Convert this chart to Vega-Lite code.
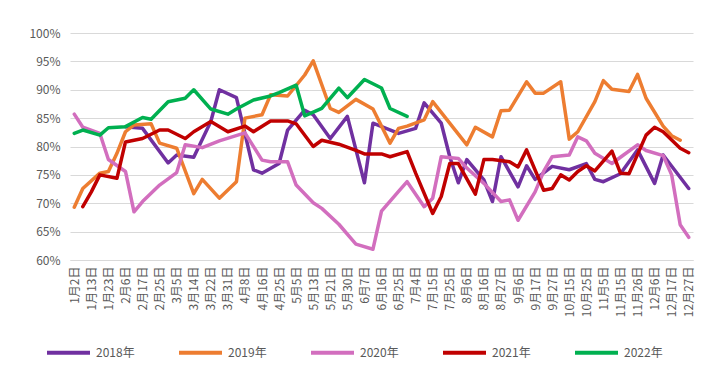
{
  "$schema": "https://vega.github.io/schema/vega-lite/v6.json",
  "width": 623,
  "height": 227,
  "autosize": {"type": "none"},
  "padding": {"left": 70, "top": 33, "right": 24, "bottom": 109},
  "background": "white",
  "config": {"view": {"stroke": null}, "font": "Noto Sans CJK SC"},
  "data": {"values": [
    {"s":"2018年","d":"2月6日","v":83.5},{"s":"2018年","d":"2月17日","v":83.2},{"s":"2018年","d":"3月1日","v":77.1},{"s":"2018年","d":"3月5日","v":78.5},{"s":"2018年","d":"3月14日","v":78.1},{"s":"2018年","d":"3月22日","v":84.4},{"s":"2018年","d":"3月26日","v":90.0},{"s":"2018年","d":"4月4日","v":88.6},{"s":"2018年","d":"4月12日","v":75.9},{"s":"2018年","d":"4月16日","v":75.3},{"s":"2018年","d":"4月25日","v":77.0},{"s":"2018年","d":"4月30日","v":82.9},{"s":"2018年","d":"5月9日","v":86.4},{"s":"2018年","d":"5月13日","v":85.6},{"s":"2018年","d":"5月21日","v":81.4},{"s":"2018年","d":"5月30日","v":85.3},{"s":"2018年","d":"6月7日","v":73.6},{"s":"2018年","d":"6月11日","v":84.1},{"s":"2018年","d":"6月25日","v":82.3},{"s":"2018年","d":"7月4日","v":83.2},{"s":"2018年","d":"7月9日","v":87.7},{"s":"2018年","d":"7月20日","v":84.1},{"s":"2018年","d":"7月25日","v":78.2},{"s":"2018年","d":"7月31日","v":73.6},{"s":"2018年","d":"8月6日","v":77.7},{"s":"2018年","d":"8月16日","v":74.1},{"s":"2018年","d":"8月21日","v":70.3},{"s":"2018年","d":"8月27日","v":78.2},{"s":"2018年","d":"9月6日","v":72.9},{"s":"2018年","d":"9月11日","v":76.6},{"s":"2018年","d":"9月17日","v":74.2},{"s":"2018年","d":"9月27日","v":76.5},{"s":"2018年","d":"10月15日","v":75.9},{"s":"2018年","d":"10月25日","v":77.0},{"s":"2018年","d":"10月30日","v":74.2},{"s":"2018年","d":"11月5日","v":73.8},{"s":"2018年","d":"11月15日","v":75.2},{"s":"2018年","d":"11月26日","v":79.4},{"s":"2018年","d":"12月6日","v":73.5},{"s":"2018年","d":"12月11日","v":78.5},{"s":"2018年","d":"12月27日","v":72.6},
    {"s":"2019年","d":"1月2日","v":69.3},{"s":"2019年","d":"1月7日","v":72.6},{"s":"2019年","d":"1月18日","v":75.3},{"s":"2019年","d":"1月23日","v":75.6},{"s":"2019年","d":"1月30日","v":78.8},{"s":"2019年","d":"2月6日","v":82.6},{"s":"2019年","d":"2月11日","v":83.8},{"s":"2019年","d":"2月21日","v":84.0},{"s":"2019年","d":"2月25日","v":80.6},{"s":"2019年","d":"3月5日","v":79.7},{"s":"2019年","d":"3月14日","v":71.7},{"s":"2019年","d":"3月18日","v":74.2},{"s":"2019年","d":"3月26日","v":70.9},{"s":"2019年","d":"4月4日","v":73.8},{"s":"2019年","d":"4月8日","v":85.0},{"s":"2019年","d":"4月16日","v":85.6},{"s":"2019年","d":"4月20日","v":89.1},{"s":"2019年","d":"4月30日","v":88.9},{"s":"2019年","d":"5月9日","v":92.6},{"s":"2019年","d":"5月13日","v":95.1},{"s":"2019年","d":"5月21日","v":86.7},{"s":"2019年","d":"5月25日","v":86.0},{"s":"2019年","d":"6月3日","v":88.3},{"s":"2019年","d":"6月11日","v":86.6},{"s":"2019年","d":"6月20日","v":80.6},{"s":"2019年","d":"6月25日","v":83.2},{"s":"2019年","d":"6月29日","v":83.6},{"s":"2019年","d":"7月9日","v":84.7},{"s":"2019年","d":"7月15日","v":87.9},{"s":"2019年","d":"8月6日","v":80.3},{"s":"2019年","d":"8月11日","v":83.4},{"s":"2019年","d":"8月21日","v":81.7},{"s":"2019年","d":"8月27日","v":86.3},{"s":"2019年","d":"9月1日","v":86.4},{"s":"2019年","d":"9月11日","v":91.4},{"s":"2019年","d":"9月17日","v":89.4},{"s":"2019年","d":"9月22日","v":89.4},{"s":"2019年","d":"10月8日","v":91.4},{"s":"2019年","d":"10月15日","v":81.3},{"s":"2019年","d":"10月20日","v":82.6},{"s":"2019年","d":"10月30日","v":87.9},{"s":"2019年","d":"11月5日","v":91.6},{"s":"2019年","d":"11月10日","v":90.1},{"s":"2019年","d":"11月20日","v":89.7},{"s":"2019年","d":"11月26日","v":92.7},{"s":"2019年","d":"12月1日","v":88.5},{"s":"2019年","d":"12月11日","v":83.6},{"s":"2019年","d":"12月17日","v":81.9},{"s":"2019年","d":"12月22日","v":81.1},
    {"s":"2020年","d":"1月2日","v":85.7},{"s":"2020年","d":"1月7日","v":83.4},{"s":"2020年","d":"1月18日","v":82.3},{"s":"2020年","d":"1月23日","v":77.7},{"s":"2020年","d":"2月6日","v":75.6},{"s":"2020年","d":"2月11日","v":68.5},{"s":"2020年","d":"2月17日","v":70.3},{"s":"2020年","d":"2月25日","v":73.2},{"s":"2020年","d":"3月5日","v":75.4},{"s":"2020年","d":"3月9日","v":80.3},{"s":"2020年","d":"3月18日","v":79.8},{"s":"2020年","d":"3月26日","v":81.0},{"s":"2020年","d":"4月8日","v":82.4},{"s":"2020年","d":"4月16日","v":77.6},{"s":"2020年","d":"4月20日","v":77.3},{"s":"2020年","d":"4月30日","v":77.3},{"s":"2020年","d":"5月5日","v":73.2},{"s":"2020年","d":"5月13日","v":70.1},{"s":"2020年","d":"5月17日","v":69.1},{"s":"2020年","d":"5月25日","v":66.3},{"s":"2020年","d":"6月3日","v":62.8},{"s":"2020年","d":"6月11日","v":61.9},{"s":"2020年","d":"6月16日","v":68.6},{"s":"2020年","d":"6月25日","v":72.1},{"s":"2020年","d":"6月29日","v":73.8},{"s":"2020年","d":"7月9日","v":69.4},{"s":"2020年","d":"7月15日","v":70.9},{"s":"2020年","d":"7月20日","v":78.2},{"s":"2020年","d":"7月31日","v":77.9},{"s":"2020年","d":"8月6日","v":76.2},{"s":"2020年","d":"8月16日","v":73.5},{"s":"2020年","d":"8月27日","v":70.3},{"s":"2020年","d":"9月1日","v":70.6},{"s":"2020年","d":"9月6日","v":67.0},{"s":"2020年","d":"9月17日","v":72.0},{"s":"2020年","d":"9月22日","v":75.6},{"s":"2020年","d":"9月27日","v":78.2},{"s":"2020年","d":"10月15日","v":78.5},{"s":"2020年","d":"10月20日","v":81.7},{"s":"2020年","d":"10月25日","v":81.0},{"s":"2020年","d":"10月30日","v":78.8},{"s":"2020年","d":"11月10日","v":77.0},{"s":"2020年","d":"11月15日","v":78.1},{"s":"2020年","d":"11月26日","v":80.3},{"s":"2020年","d":"12月1日","v":79.3},{"s":"2020年","d":"12月11日","v":78.4},{"s":"2020年","d":"12月17日","v":75.0},{"s":"2020年","d":"12月22日","v":66.2},{"s":"2020年","d":"12月27日","v":64.0},
    {"s":"2021年","d":"1月7日","v":69.4},{"s":"2021年","d":"1月13日","v":72.0},{"s":"2021年","d":"1月18日","v":75.0},{"s":"2021年","d":"1月30日","v":74.4},{"s":"2021年","d":"2月6日","v":80.8},{"s":"2021年","d":"2月17日","v":81.4},{"s":"2021年","d":"2月25日","v":82.9},{"s":"2021年","d":"3月1日","v":82.9},{"s":"2021年","d":"3月9日","v":81.4},{"s":"2021年","d":"3月14日","v":82.6},{"s":"2021年","d":"3月22日","v":84.4},{"s":"2021年","d":"3月31日","v":82.6},{"s":"2021年","d":"4月8日","v":83.6},{"s":"2021年","d":"4月12日","v":82.6},{"s":"2021年","d":"4月20日","v":84.5},{"s":"2021年","d":"4月30日","v":84.5},{"s":"2021年","d":"5月5日","v":84.0},{"s":"2021年","d":"5月13日","v":80.0},{"s":"2021年","d":"5月17日","v":81.1},{"s":"2021年","d":"5月25日","v":80.4},{"s":"2021年","d":"6月3日","v":79.3},{"s":"2021年","d":"6月7日","v":78.7},{"s":"2021年","d":"6月16日","v":78.7},{"s":"2021年","d":"6月20日","v":78.2},{"s":"2021年","d":"6月29日","v":79.1},{"s":"2021年","d":"7月4日","v":75.3},{"s":"2021年","d":"7月15日","v":68.2},{"s":"2021年","d":"7月20日","v":71.2},{"s":"2021年","d":"7月25日","v":77.0},{"s":"2021年","d":"7月31日","v":77.0},{"s":"2021年","d":"8月11日","v":71.6},{"s":"2021年","d":"8月16日","v":77.7},{"s":"2021年","d":"8月21日","v":77.7},{"s":"2021年","d":"9月1日","v":77.3},{"s":"2021年","d":"9月6日","v":76.4},{"s":"2021年","d":"9月11日","v":79.4},{"s":"2021年","d":"9月22日","v":72.3},{"s":"2021年","d":"9月27日","v":72.6},{"s":"2021年","d":"10月8日","v":75.0},{"s":"2021年","d":"10月15日","v":74.1},{"s":"2021年","d":"10月20日","v":75.6},{"s":"2021年","d":"10月25日","v":76.6},{"s":"2021年","d":"10月30日","v":75.7},{"s":"2021年","d":"11月10日","v":79.2},{"s":"2021年","d":"11月15日","v":75.3},{"s":"2021年","d":"11月20日","v":75.2},{"s":"2021年","d":"12月1日","v":82.0},{"s":"2021年","d":"12月6日","v":83.4},{"s":"2021年","d":"12月11日","v":82.6},{"s":"2021年","d":"12月22日","v":79.7},{"s":"2021年","d":"12月27日","v":78.9},
    {"s":"2022年","d":"1月2日","v":82.3},{"s":"2022年","d":"1月7日","v":82.9},{"s":"2022年","d":"1月18日","v":82.0},{"s":"2022年","d":"1月23日","v":83.3},{"s":"2022年","d":"2月6日","v":83.5},{"s":"2022年","d":"2月17日","v":85.1},{"s":"2022年","d":"2月21日","v":84.8},{"s":"2022年","d":"3月1日","v":87.9},{"s":"2022年","d":"3月9日","v":88.5},{"s":"2022年","d":"3月14日","v":90.0},{"s":"2022年","d":"3月22日","v":86.6},{"s":"2022年","d":"3月31日","v":85.7},{"s":"2022年","d":"4月4日","v":86.6},{"s":"2022年","d":"4月12日","v":88.2},{"s":"2022年","d":"4月20日","v":88.9},{"s":"2022年","d":"4月25日","v":89.5},{"s":"2022年","d":"5月5日","v":90.8},{"s":"2022年","d":"5月9日","v":85.4},{"s":"2022年","d":"5月17日","v":86.7},{"s":"2022年","d":"5月25日","v":90.3},{"s":"2022年","d":"5月30日","v":88.6},{"s":"2022年","d":"6月7日","v":91.8},{"s":"2022年","d":"6月16日","v":90.3},{"s":"2022年","d":"6月20日","v":86.7},{"s":"2022年","d":"6月29日","v":85.3}
  ]},
  "mark": {"type": "line", "strokeWidth": 3.5, "strokeJoin": "round", "strokeCap": "round"},
  "encoding": {
    "x": {
      "field": "d", "type": "ordinal", "sort": null,
      "scale": {"domain": ["1月2日","1月7日","1月13日","1月18日","1月23日","1月30日","2月6日","2月11日","2月17日","2月21日","2月25日","3月1日","3月5日","3月9日","3月14日","3月18日","3月22日","3月26日","3月31日","4月4日","4月8日","4月12日","4月16日","4月20日","4月25日","4月30日","5月5日","5月9日","5月13日","5月17日","5月21日","5月25日","5月30日","6月3日","6月7日","6月11日","6月16日","6月20日","6月25日","6月29日","7月4日","7月9日","7月15日","7月20日","7月25日","7月31日","8月6日","8月11日","8月16日","8月21日","8月27日","9月1日","9月6日","9月11日","9月17日","9月22日","9月27日","10月8日","10月15日","10月20日","10月25日","10月30日","11月5日","11月10日","11月15日","11月20日","11月26日","12月1日","12月6日","12月11日","12月17日","12月22日","12月27日"]},
      "axis": {
        "title": null,
        "values": ["1月2日","1月13日","1月23日","2月6日","2月17日","2月25日","3月5日","3月14日","3月22日","3月31日","4月8日","4月16日","4月25日","5月5日","5月13日","5月21日","5月30日","6月7日","6月16日","6月25日","7月4日","7月15日","7月25日","8月6日","8月16日","8月27日","9月6日","9月17日","9月27日","10月15日","10月25日","11月5日","11月15日","11月26日","12月6日","12月17日","12月27日"],
        "labelAngle": -90, "labelOverlap": false, "labelFontSize": 12, "labelColor": "#595959",
        "labelPadding": 6, "ticks": false, "domainColor": "#d9d9d9", "domainWidth": 1, "grid": false
      }
    },
    "y": {
      "field": "v", "type": "quantitative",
      "scale": {"domain": [60, 100], "nice": false, "zero": false},
      "axis": {
        "title": null, "values": [60,65,70,75,80,85,90,95,100],
        "labelExpr": "datum.value + '%'", "labelFontSize": 12, "labelColor": "#595959",
        "labelPadding": 10, "ticks": false, "domain": false,
        "grid": true, "gridColor": "#d9d9d9", "gridWidth": 1
      }
    },
    "color": {
      "field": "s", "type": "nominal",
      "scale": {"domain": ["2018年","2019年","2020年","2021年","2022年"], "range": ["#7030A0","#ED7D31","#D26EBE","#C00000","#00B050"]},
      "legend": {
        "title": null, "orient": "none", "direction": "horizontal",
        "legendX": -25, "legendY": 296,
        "symbolType": "stroke", "symbolSize": 1849, "symbolStrokeWidth": 4,
        "labelFontSize": 12, "labelColor": "#595959", "labelOffset": 4, "columnPadding": 36, "padding": 0
      }
    },
    "order": {"value": null}
  }
}
